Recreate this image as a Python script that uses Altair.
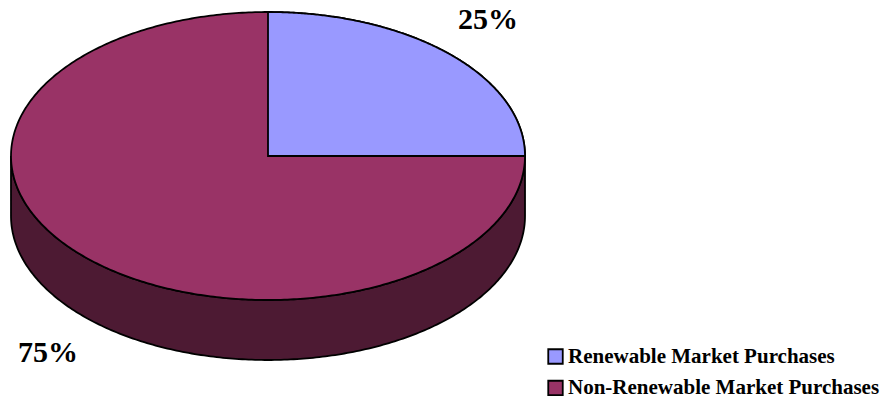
import altair as alt
import pandas as pd

categories = ["Renewable Market Purchases", "Non-Renewable Market Purchases"]
shares = [25, 75]
share_labels = ["25%", "75%"]
colors = ["#9999FF", "#993366"]
side_color = "#4D1A33"

label_x = [220, -220]
label_y = [136, -197]

RX, RY, DEPTH = 257, 144, 60
FONT = "Liberation Serif"

x_scale = alt.Scale(domain=[-260, 616], nice=False, zero=False)
y_scale = alt.Scale(domain=[-240, 148], nice=False, zero=False)
color_scale = alt.Scale(domain=categories, range=colors)
legend = alt.Legend(
    title=None, orient="none", legendX=537, legendY=338, symbolType="square", symbolSize=210,
    symbolStrokeColor="black", symbolStrokeWidth=1.8, symbolOpacity=1, labelFont=FONT,
    labelFontSize=21, labelFontWeight="bold", labelColor="black", rowPadding=8.5, labelOffset=2,
    labelLimit=400,
)
x_enc = alt.X("x:Q", scale=x_scale, axis=None)
y_enc = alt.Y("y:Q", scale=y_scale, axis=None)
y2_enc = alt.Y2("y2:Q")

seq = alt.sequence(0, 1.0001, 0.004, as_="t")

side = (
    alt.Chart(seq)
    .transform_calculate(
        x=f"-{RX}*cos(PI*datum.t)",
        y=f"-{RY}*sin(PI*datum.t)",
        y2=f"-{RY}*sin(PI*datum.t)-{DEPTH}",
    )
    .mark_area(color=side_color, stroke="black", strokeWidth=1.8)
    .encode(x=x_enc, y=y_enc, y2=y2_enc)
)

whole = (
    alt.Chart(seq)
    .transform_calculate(
        x=f"-{RX}*cos(PI*datum.t)",
        y=f"{RY}*sin(PI*datum.t)",
        y2=f"-{RY}*sin(PI*datum.t)",
        cat=f"'{categories[1]}'",
    )
    .mark_area(stroke="black", strokeWidth=1.8, opacity=1)
    .encode(x=x_enc, y=y_enc, y2=y2_enc,
            color=alt.Color("cat:N", scale=color_scale, legend=legend))
)

sweep = f"(2*PI*{shares[0]}/100*datum.t)"
wedge = (
    alt.Chart(seq)
    .transform_calculate(
        x=f"{RX}*sin({sweep})",
        y=f"{RY}*cos({sweep})",
        y2="0",
        cat=f"'{categories[0]}'",
    )
    .mark_area(stroke="black", strokeWidth=1.8, opacity=1)
    .encode(x=x_enc, y=y_enc, y2=y2_enc,
            color=alt.Color("cat:N", scale=color_scale, legend=legend))
)

labels = (
    alt.Chart(pd.DataFrame({"x": label_x, "y": label_y, "t": share_labels}))
    .mark_text(font=FONT, fontSize=30, fontWeight="bold", color="black")
    .encode(x=x_enc, y=y_enc, text="t:N")
)

chart = (
    alt.layer(side, whole, wedge, labels)
    .properties(width=876, height=388, padding=0, autosize=alt.AutoSizeParams(type="none"))
    .configure_view(stroke=None)
    .configure_legend(padding=0)
)
chart.save("out.html", embed_options={"renderer": "svg", "actions": False})
